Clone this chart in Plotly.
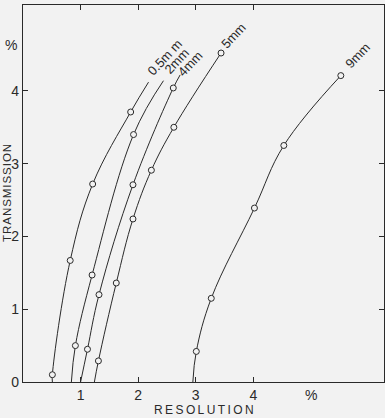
import plotly.graph_objects as go

# ---- data ----
curve_names = ["0.5m m", "2mm", "4mm", "5mm", "9mm"]

# points drawn as open circles (resolution %, transmission %)
res_05 = [0.51, 0.82, 1.21, 1.87]
tra_05 = [0.10, 1.67, 2.72, 3.71]
res_2 = [0.91, 1.20, 1.92]
tra_2 = [0.50, 1.47, 3.40]
res_4 = [1.12, 1.32, 1.91, 2.61]
tra_4 = [0.45, 1.20, 2.71, 4.04]
res_5 = [1.31, 1.62, 1.91, 2.23, 2.62, 3.44]
tra_5 = [0.29, 1.36, 2.24, 2.91, 3.50, 4.52]
res_9 = [3.01, 3.27, 4.02, 4.53, 5.52]
tra_9 = [0.42, 1.15, 2.39, 3.25, 4.21]

# where each drawn curve meets the zero line and where it ends
curve_start_res = [0.51, 0.84, 1.00, 1.24, 2.95]
curve_end_res = [2.18, 2.44, 2.73, None, None]
curve_end_tra = [4.12, 4.14, 4.22, None, None]

# curve label positions
label_res = [2.46, 2.66, 2.91, 3.66, 5.81]
label_tra = [4.46, 4.41, 4.37, 4.76, 4.49]

x_ticks = [1, 2, 3, 4]
y_ticks = [0, 1, 2, 3, 4]

# ---- styling ----
BG = "#f2f2f2"
INK = "#2a2a2a"
FONT = "Liberation Sans, Arial, sans-serif"

series = [(res_05, tra_05), (res_2, tra_2), (res_4, tra_4), (res_5, tra_5), (res_9, tra_9)]

fig = go.Figure()
for i, (xs, ys) in enumerate(series):
    cx = [curve_start_res[i]] + list(xs)
    cy = [0.0] + list(ys)
    if curve_end_res[i] is not None:
        cx.append(curve_end_res[i])
        cy.append(curve_end_tra[i])
    fig.add_trace(go.Scatter(
        x=cx, y=cy, mode="lines",
        line=dict(color=INK, width=1.0, shape="spline", smoothing=1.1),
        hoverinfo="skip", showlegend=False,
    ))
for i, (xs, ys) in enumerate(series):
    fig.add_trace(go.Scatter(
        x=xs, y=ys, mode="markers", name=curve_names[i],
        marker=dict(symbol="circle", size=6, color=BG, line=dict(color=INK, width=1)),
        showlegend=False,
    ))

annotations = []
for i, name in enumerate(curve_names):
    annotations.append(dict(
        x=label_res[i], y=label_tra[i], xref="x", yref="y", text=name,
        showarrow=False, textangle=-47, xanchor="center", yanchor="middle",
        font=dict(family=FONT, size=13, color=INK),
    ))
# percent unit markers
annotations.append(dict(x=5, y=0, xref="x", yref="y", text="%", showarrow=False,
                        xanchor="center", yanchor="top", yshift=-3,
                        font=dict(family=FONT, size=14, color=INK)))
annotations.append(dict(x=0, y=4.63, xref="x", yref="y", text="%", showarrow=False,
                        xanchor="right", yanchor="middle", xshift=-4,
                        font=dict(family=FONT, size=14, color=INK)))
# axis titles (letter-spaced)
hair = "\u200a"
thin = "\u2009"
annotations.append(dict(x=0.5, y=0, xref="paper", yref="paper",
                        text=thin.join("RESOLUTION"), showarrow=False,
                        xanchor="center", yanchor="middle", yshift=-28,
                        font=dict(family=FONT, size=12, color=INK)))
annotations.append(dict(x=0, y=0.5, xref="paper", yref="paper",
                        text=hair.join("TRANSMISSION"), showarrow=False, textangle=-90,
                        xanchor="center", yanchor="middle", xshift=-16.5,
                        font=dict(family=FONT, size=11.5, color=INK)))

axis_common = dict(
    showgrid=False, zeroline=False, showline=True, linecolor=INK, linewidth=1.2,
    mirror="ticks", ticks="inside", ticklen=5, tickwidth=1, tickcolor=INK,
    tickfont=dict(family=FONT, size=14, color=INK),
)

fig.update_layout(
    width=385, height=418,
    margin=dict(l=23, r=1, t=5, b=36),
    paper_bgcolor=BG, plot_bgcolor=BG,
    xaxis=dict(range=[0, 6.27], tickvals=x_ticks, ticktext=[str(v) for v in x_ticks], **axis_common),
    yaxis=dict(range=[0, 5.18], tickvals=y_ticks, ticktext=[str(v) for v in y_ticks], **axis_common),
    annotations=annotations,
    showlegend=False,
)

fig.write_html("out.html")
